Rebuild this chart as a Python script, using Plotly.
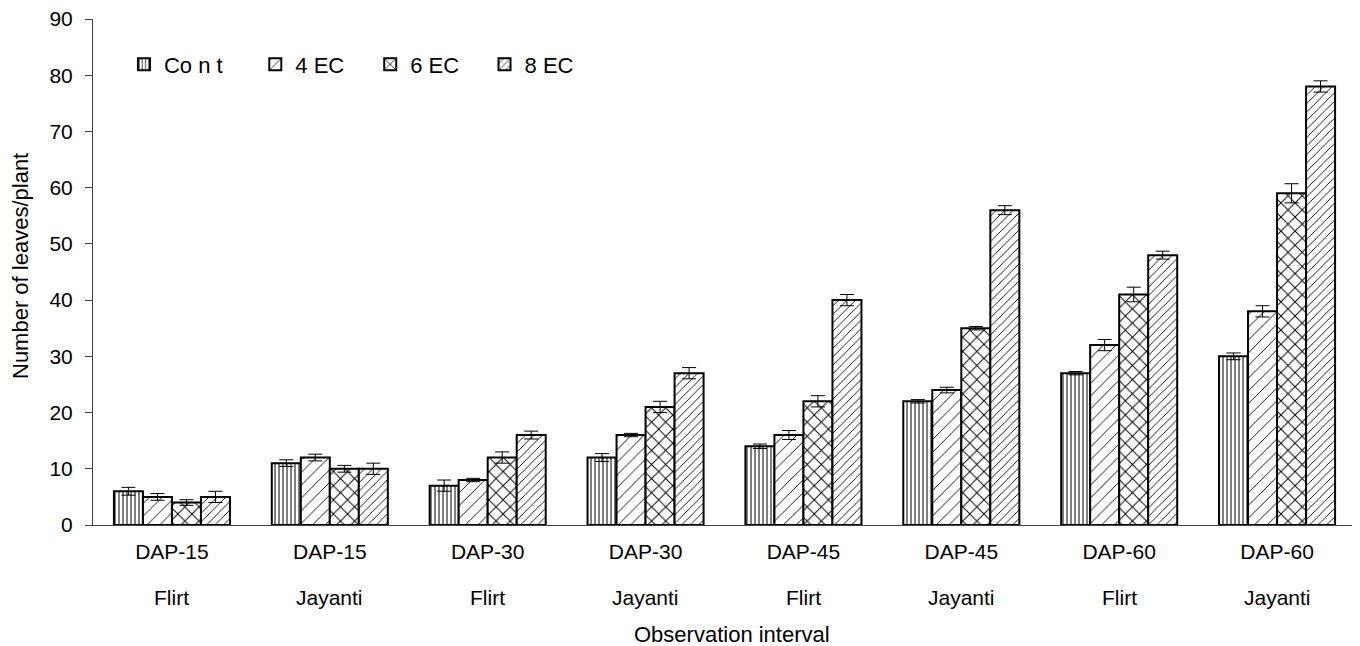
import plotly.graph_objects as go

intervals = ["DAP-15", "DAP-15", "DAP-30", "DAP-30", "DAP-45", "DAP-45", "DAP-60", "DAP-60"]
varieties = ["Flirt", "Jayanti", "Flirt", "Jayanti", "Flirt", "Jayanti", "Flirt", "Jayanti"]
categories = [f"{a} {b}" for a, b in zip(intervals, varieties)]

series_names = ["Co n t", "4 EC", "6 EC", "8 EC"]
cont = [6, 11, 7, 12, 14, 22, 27, 30]
ec4 = [5, 12, 8, 16, 16, 24, 32, 38]
ec6 = [4, 10, 12, 21, 22, 35, 41, 59]
ec8 = [5, 10, 16, 27, 40, 56, 48, 78]

cont_err = [0.7, 0.6, 1.0, 0.7, 0.4, 0.3, 0.3, 0.6]
ec4_err = [0.6, 0.6, 0.3, 0.3, 0.8, 0.5, 1.0, 1.0]
ec6_err = [0.5, 0.6, 1.0, 1.0, 1.0, 0.3, 1.3, 1.7]
ec8_err = [1.0, 1.0, 0.7, 1.0, 1.0, 0.8, 0.7, 1.0]

y_ticks = [0, 10, 20, 30, 40, 50, 60, 70, 80, 90]
x_title = "Observation interval"
y_title = "Number of leaves/plant"

patterns = [
    dict(shape="|", size=4, solidity=0.25),
    dict(shape="/", size=9, solidity=0.1),
    dict(shape="x", size=10, solidity=0.18),
    dict(shape="/", size=6, solidity=0.15),
]
legend_ids = ["legend", "legend2", "legend3", "legend4"]
legend_x = [0.0245, 0.1285, 0.2195, 0.3100]

fig = go.Figure()
for name, vals, errs, pat, lid in zip(series_names, [cont, ec4, ec6, ec8],
                                      [cont_err, ec4_err, ec6_err, ec8_err], patterns, legend_ids):
    fig.add_trace(go.Bar(
        x=categories, y=vals, name=name, legend=lid,
        marker=dict(color="white", line=dict(color="black", width=2),
                    pattern=dict(fgcolor="black", bgcolor="white", fillmode="replace", **pat)),
        error_y=dict(type="data", array=errs, visible=True, color="black", thickness=1, width=7),
    ))

for cat, var in zip(categories, varieties):
    fig.add_annotation(x=cat, y=0, xref="x", yref="paper", text=var, showarrow=False,
                       yanchor="middle", yshift=-72, font=dict(size=21, color="black"))

fig.add_annotation(x=0.5, y=0, xref="paper", yref="paper", text=x_title, showarrow=False,
                   yanchor="middle", yshift=-109, xshift=7, font=dict(size=22, color="black"))
fig.add_annotation(x=0, y=0.5, xref="paper", yref="paper", text=y_title, showarrow=False,
                   textangle=-90, xanchor="center", yanchor="middle", xshift=-73, yshift=6,
                   font=dict(size=22, color="black"))

legend_layout = {}
for lid, lx in zip(legend_ids, legend_x):
    legend_layout[lid] = dict(orientation="h", x=lx, y=0.91, xanchor="left", yanchor="middle",
                              font=dict(size=22), bgcolor="rgba(0,0,0,0)")

fig.update_layout(
    width=1352, height=638,
    margin=dict(l=85, r=4, t=11, b=121, autoexpand=False),
    paper_bgcolor="white", plot_bgcolor="white",
    font=dict(family="Liberation Sans, Arial, sans-serif", color="black"),
    barmode="group", bargap=0.265, bargroupgap=0,
    showlegend=True,
    xaxis=dict(
        tickmode="array", tickvals=categories, ticktext=intervals,
        showline=True, linecolor="#444", linewidth=1, ticks="",
        tickfont=dict(size=21), showgrid=False, automargin=False,
        ticklabelstandoff=8,
    ),
    yaxis=dict(
        range=[0, 90], tickvals=y_ticks, showline=True, linecolor="#444", linewidth=1,
        ticks="outside", ticklen=7, tickcolor="#444", tickfont=dict(size=21),
        showgrid=False, zeroline=False, automargin=False, ticklabelstandoff=8,
        ticklabeloverflow="allow",
    ),
    **legend_layout,
)

fig.write_html("out.html")
